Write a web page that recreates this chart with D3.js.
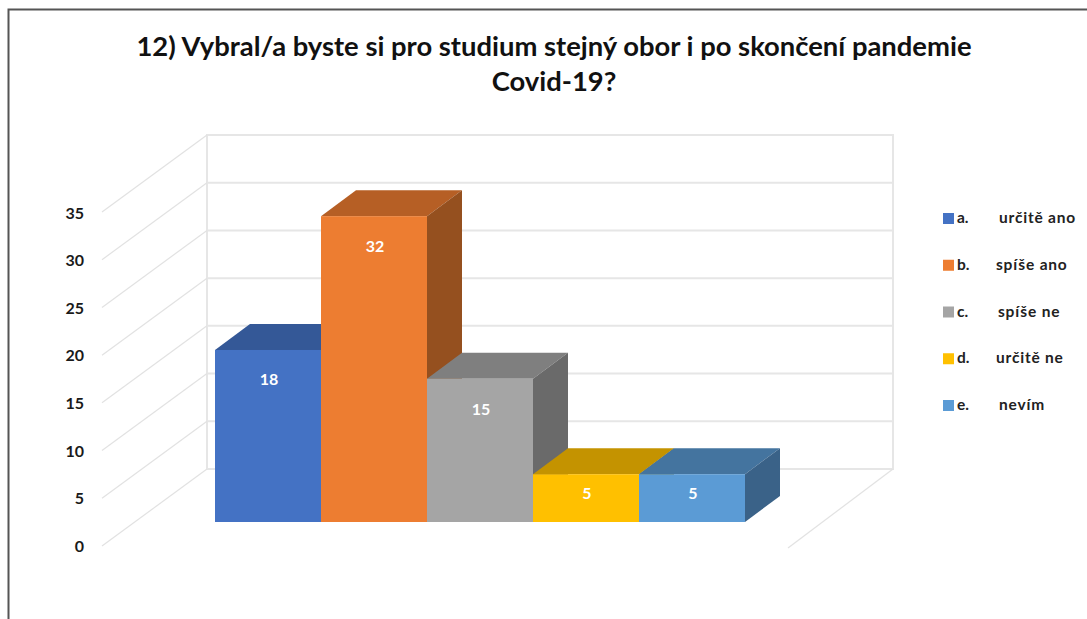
<!DOCTYPE html>
<html><head><meta charset="utf-8">
<script src="https://cdn.jsdelivr.net/npm/d3@7"></script>
<style>html,body{margin:0;background:#fff}svg{display:block}text{font-family:Lato,sans-serif;font-weight:700}</style>
</head><body><svg id="c" width="1087" height="619"></svg>
<script>
const keys=["a.","b.","c.","d.","e."];
const names=["určitě ano","spíše ano","spíše ne","určitě ne","nevím"];
const values=[18,32,15,5,5];
const faces=["#4472c4","#ed7d31","#a5a5a5","#ffc000","#5b9bd5"];
const tops=["#345897","#b65f25","#7f7f7f","#c49300","#44749f"];
const sides=["#2f4f88","#95501f","#6a6a6a","#a67c00","#3a6288"];
const tickVals=[0,5,10,15,20,25,30,35];
const titleLines=["12) Vybral/a byste si pro studium stejný obor i po skončení pandemie","Covid-19?"];
const nameX=[999,996,998,996,999];
const labelDrop=[29,30,31,19,19];

const svg=d3.select("#c");
// frame
svg.append("path").attr("d","M8.5,619V9.5H1087").attr("fill","none").attr("stroke","#555").attr("stroke-width",2);

const titleY=[56,91];
svg.selectAll(".t").data(titleLines).join("text").attr("class","t").attr("x",554).attr("y",(d,i)=>titleY[i])
 .attr("text-anchor","middle").attr("font-size",27.4).attr("fill","#111").text(d=>d);

const yFront=d3.scaleLinear().domain([0,35]).range([522,187.5]);
const x=d3.scaleBand().domain(keys).range([215,745]).padding(0);
const back={dx:35,dy:-26};           // bar depth
const wall={l:207,r:893,dx:-105,dy:77}; // wall to floor front
const yWall=d3.scaleLinear().domain([0,35]).range([469,135]);

const g=svg.append("g");
// back wall gridlines
g.selectAll(".gh").data(tickVals).join("line").attr("x1",wall.l).attr("x2",wall.r)
 .attr("y1",d=>yWall(d)).attr("y2",d=>yWall(d)).attr("stroke","#e6e6e6").attr("stroke-width",2);
// wall verticals
[wall.l,wall.r].forEach(v=>g.append("line").attr("x1",v).attr("x2",v).attr("y1",yWall(35)-1).attr("y2",yWall(0)+1).attr("stroke","#e6e6e6").attr("stroke-width",2));
// side wall gridlines
g.selectAll(".gd").data(tickVals).join("line").attr("x1",wall.l).attr("y1",d=>yWall(d))
 .attr("x2",wall.l+wall.dx).attr("y2",d=>yWall(d)+wall.dy).attr("stroke","#e2e2e2").attr("stroke-width",1.2);
g.append("line").attr("x1",wall.r).attr("y1",yWall(0)).attr("x2",wall.r+wall.dx).attr("y2",yWall(0)+wall.dy+2).attr("stroke","#e2e2e2").attr("stroke-width",1.2);

// axis labels
const yLab=d3.scaleLinear().domain([0,35]).range([546,213]);
svg.selectAll(".yl").data(tickVals).join("text").attr("class","yl").attr("x",84).attr("y",d=>yLab(d)).attr("dy","0.36em")
 .attr("text-anchor","end").attr("font-size",16).attr("fill","#1a1a1a").text(d=>d);

// bars, left to right
const data=keys.map((k,i)=>({k,v:values[i],i}));
const bars=svg.selectAll(".bar").data(data).join("g").attr("class","bar");
bars.append("path").attr("fill",d=>tops[d.i]).attr("d",d=>{
  const a=x(d.k),b=a+x.bandwidth(),t=yFront(d.v);
  return `M${a},${t}L${b},${t}L${b+back.dx},${t+back.dy}L${a+back.dx},${t+back.dy}Z`;});
bars.append("path").attr("fill",d=>sides[d.i]).attr("d",d=>{
  const b=x(d.k)+x.bandwidth(),t=yFront(d.v),z=yFront(0);
  return `M${b},${t}L${b+back.dx},${t+back.dy}L${b+back.dx},${z+back.dy}L${b},${z}Z`;});
// paint fronts afterwards so a later bar's depth never covers them
bars.append("rect").attr("fill",d=>faces[d.i]).attr("x",d=>x(d.k)).attr("width",x.bandwidth())
 .attr("y",d=>yFront(d.v)).attr("height",d=>yFront(0)-yFront(d.v));
bars.append("text").attr("x",d=>x(d.k)+x.bandwidth()/2+1).attr("y",d=>yFront(d.v)+labelDrop[d.i]).attr("dy","0.36em")
 .attr("text-anchor","middle").attr("font-size",16).attr("fill","#fff").text(d=>d.v);

// legend
const yLeg=d3.scalePoint().domain(keys).range([218.5,405.5]);
const lg=svg.selectAll(".lg").data(data).join("g").attr("class","lg");
lg.append("rect").attr("x",943).attr("y",d=>yLeg(d.k)-5.5).attr("width",11).attr("height",11).attr("fill",d=>faces[d.i]);
lg.append("text").attr("x",957).attr("y",d=>yLeg(d.k)-1).attr("dy","0.36em").attr("font-size",15.5).attr("fill","#222").text(d=>d.k);
lg.append("text").attr("x",d=>nameX[d.i]).attr("y",d=>yLeg(d.k)-1).attr("dy","0.36em").attr("font-size",15.5).attr("letter-spacing",0.8).attr("fill","#222").text(d=>names[d.i]);
</script></body></html>
